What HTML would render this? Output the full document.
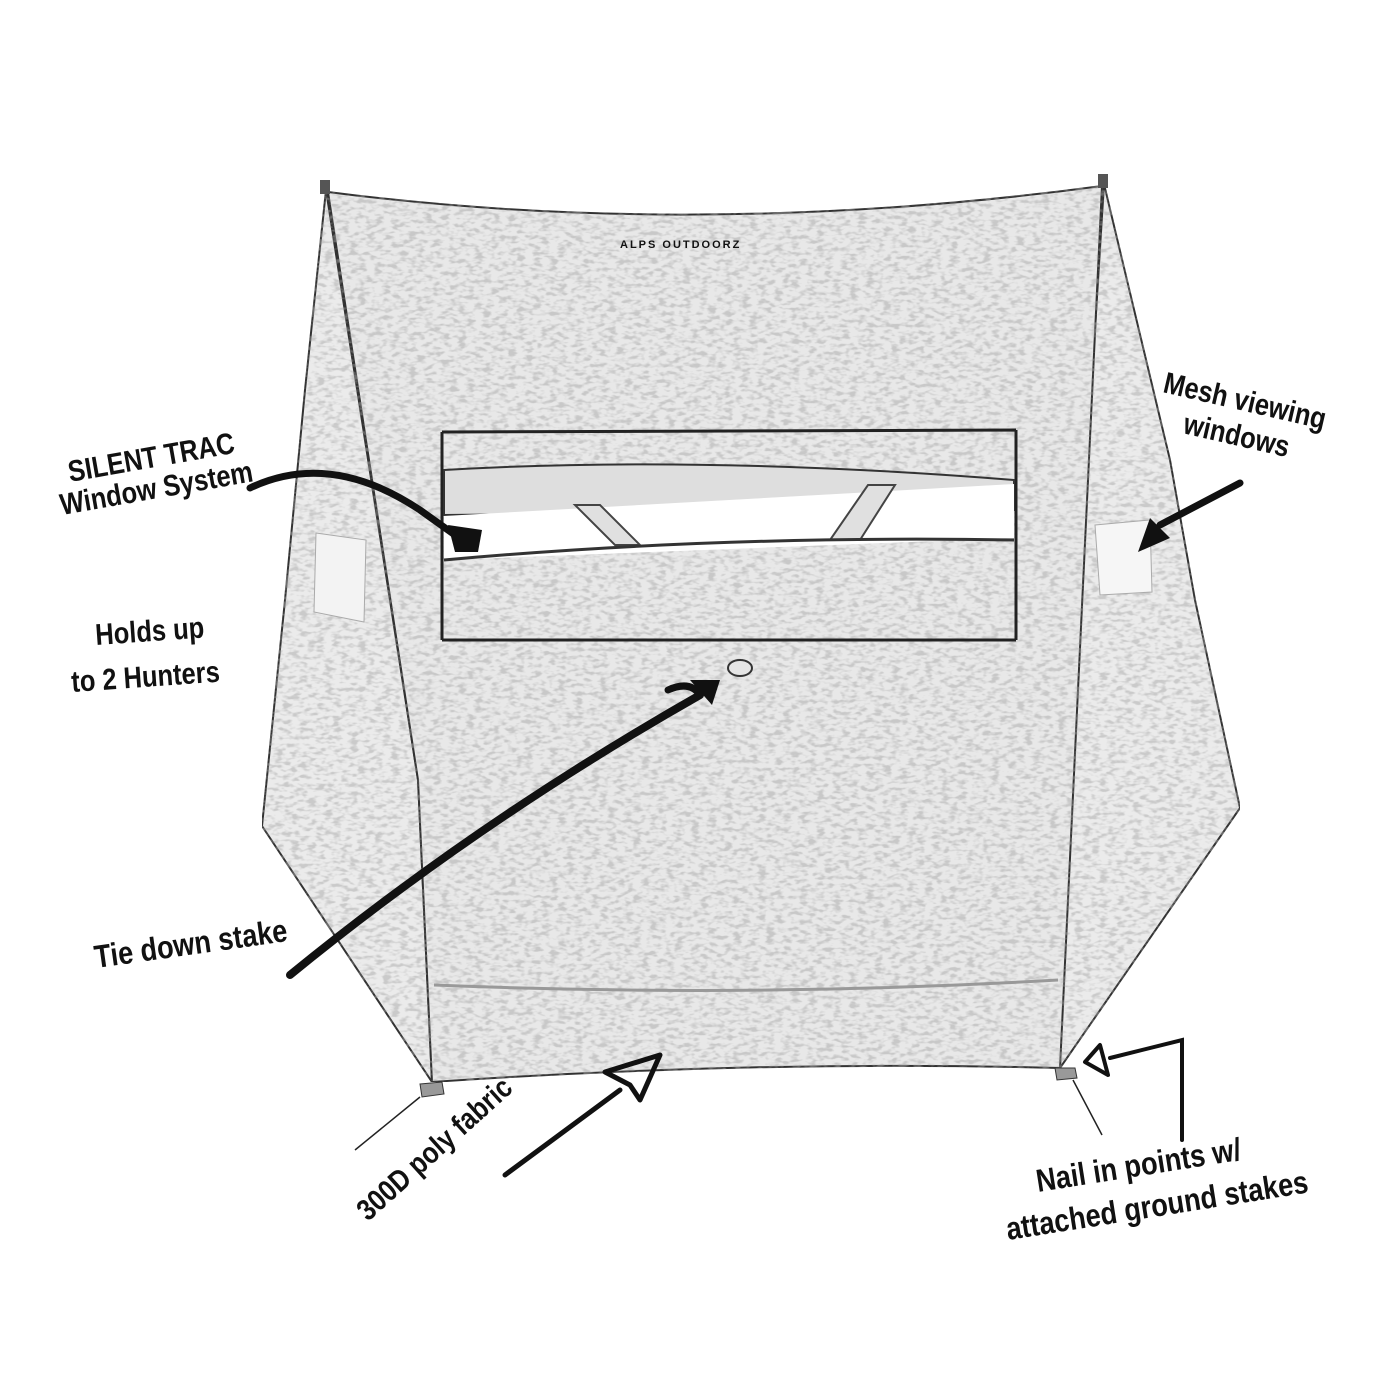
<!DOCTYPE html>
<html><head><meta charset="utf-8"><style>
html,body{margin:0;padding:0;background:#fff}
svg{display:block}
text{font-family:"Liberation Sans",sans-serif;fill:#111;font-weight:bold}
</style></head><body>
<svg width="1400" height="1400" viewBox="0 0 1400 1400" xmlns="http://www.w3.org/2000/svg">
<defs>
<filter id="tex" x="0" y="0" width="100%" height="100%">
<feTurbulence type="fractalNoise" baseFrequency="0.12 0.25" numOctaves="2" seed="4" result="n"/>
<feColorMatrix in="n" type="matrix" values="0 0 0 0 0.3  0 0 0 0 0.3  0 0 0 0 0.3  0 0 0 -4 2.2" result="c"/>
<feComponentTransfer in="c" result="c2"><feFuncA type="linear" slope="0.45"/></feComponentTransfer>
<feComposite in="c2" in2="SourceGraphic" operator="in" result="t"/>
<feMerge><feMergeNode in="SourceGraphic"/><feMergeNode in="t"/></feMerge>
</filter>
</defs>
<rect width="1400" height="1400" fill="#fff"/>
<g filter="url(#tex)" stroke="#333" stroke-width="2">
<path d="M326,190 L305,390 L285,600 L262,826 L432,1082 L418,780 Z" fill="#ebebeb"/>
<path d="M1104,184 L1170,460 L1195,600 L1240,808 L1060,1068 L1072,700 Z" fill="#ebebeb"/>
<path d="M328,192 Q700,240 1102,186 L1060,1068 Q750,1060 432,1082 L418,780 Z" fill="#e8e8e8"/>
</g>
<g stroke="#222" stroke-width="3" fill="none">
<path d="M442,432 L442,640 M442,640 L1016,640 M1016,430 L1016,640 M442,432 L1016,430"/>
</g>
<path d="M444,470 Q700,455 1014,480 L1014,510 L444,515 Z" fill="#dedede" stroke="#333" stroke-width="2"/>
<path d="M444,516 L1014,484 L1014,538 L444,560 Z" fill="#fff"/>
<path d="M575,505 L600,505 L640,545 L615,545 Z" fill="#e0e0e0" stroke="#444" stroke-width="2"/>
<path d="M830,540 L860,540 L895,485 L868,485 Z" fill="#e0e0e0" stroke="#444" stroke-width="2"/>
<path d="M444,560 Q720,535 1014,540" fill="none" stroke="#333" stroke-width="3"/>
<path d="M316,533 L366,540 L364,622 L314,612 Z" fill="#f3f3f3" stroke="#aaa"/>
<path d="M1095,525 L1150,520 L1152,592 L1100,595 Z" fill="#f6f6f6" stroke="#aaa"/>
<path d="M434,985 Q750,998 1058,980" fill="none" stroke="#999" stroke-width="3"/>
<rect x="320" y="180" width="10" height="14" fill="#555"/>
<rect x="1098" y="174" width="10" height="14" fill="#555"/>
<path d="M420,1084 l22,-2 l2,12 l-22,3 Z" fill="#999" stroke="#333"/>
<path d="M1055,1068 l20,0 l2,10 l-20,2 Z" fill="#999" stroke="#333"/>
<g stroke="#222" stroke-width="1.5">
<line x1="420" y1="1097" x2="355" y2="1150"/>
<line x1="1073" y1="1080" x2="1102" y2="1135"/>
</g>
<ellipse cx="740" cy="668" rx="12" ry="8" fill="#e4e4e4" stroke="#333" stroke-width="2"/>
<text x="620" y="248" font-size="11" fill="#333" style="letter-spacing:2px">ALPS OUTDOORZ</text>
<g fill="none" stroke="#111" stroke-linecap="round">
<path d="M250,488 Q330,450 420,510 L462,540" stroke-width="7"/>
<path d="M290,975 Q480,820 700,695" stroke-width="8"/>
<path d="M700,695 Q690,680 668,690" stroke-width="7"/>
<path d="M1240,483 L1160,525" stroke-width="7"/>
<path d="M505,1175 L620,1090" stroke-width="5"/>
<path d="M1182,1140 L1182,1040 L1110,1058" stroke-width="4"/>
</g>
<path d="M448,525 L482,530 L478,552 L455,552 Z" fill="#111"/>
<path d="M720,680 L690,680 L712,705 Z" fill="#111"/>
<path d="M1138,552 L1150,518 L1170,538 Z" fill="#111"/>
<path d="M605,1072 L660,1055 L640,1100 L630,1085 Z" fill="none" stroke="#111" stroke-width="5" stroke-linejoin="round"/>
<path d="M1085,1062 L1100,1045 L1108,1075 Z" fill="none" stroke="#111" stroke-width="4" stroke-linejoin="round"/>
<g>
<text transform="translate(70,482) rotate(-10) scale(0.85,1)" font-size="30">SILENT TRAC</text>
<text transform="translate(62,515) rotate(-10) scale(0.85,1)" font-size="30">Window System</text>
<text transform="translate(96,645) rotate(-4) scale(0.85,1)" font-size="30">Holds up</text>
<text transform="translate(72,692) rotate(-4) scale(0.85,1)" font-size="30">to 2 Hunters</text>
<text transform="translate(96,968) rotate(-8) scale(0.85,1)" font-size="32">Tie down stake</text>
<text transform="translate(1162,392) rotate(13) scale(0.85,1)" font-size="30">Mesh viewing</text>
<text transform="translate(1182,433) rotate(13) scale(0.85,1)" font-size="30">windows</text>
<text transform="translate(368,1222) rotate(-42) scale(0.85,1)" font-size="30">300D poly fabric</text>
<text transform="translate(1038,1192) rotate(-9) scale(0.85,1)" font-size="32">Nail in points w/</text>
<text transform="translate(1008,1240) rotate(-9) scale(0.85,1)" font-size="32">attached ground stakes</text>
</g>
</svg>
</body></html>
